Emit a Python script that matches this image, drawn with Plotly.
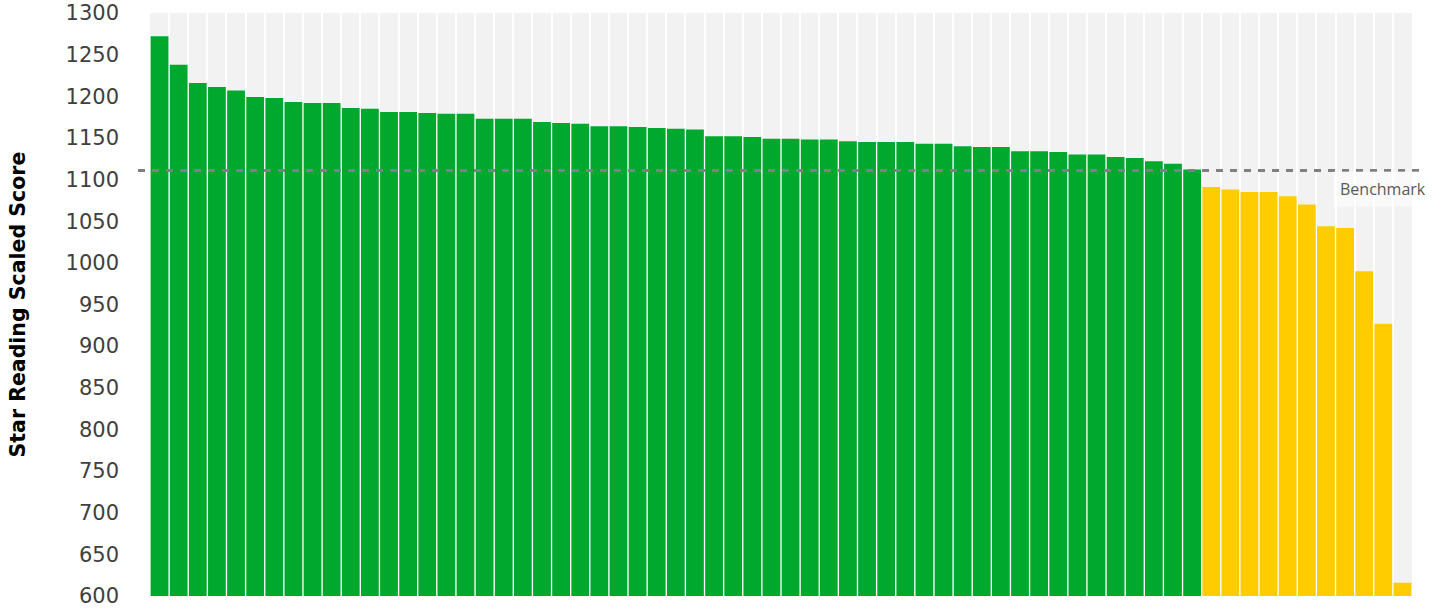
import plotly.graph_objects as go

# Student scaled scores, sorted high to low
scores = [
    1272, 1238, 1216, 1211, 1207, 1199, 1198, 1193, 1192, 1192,
    1186, 1185, 1181, 1181, 1180, 1179, 1179, 1173, 1173, 1173,
    1169, 1168, 1167, 1164, 1164, 1163, 1162, 1161, 1160, 1152,
    1152, 1151, 1149, 1149, 1148, 1148, 1146, 1145, 1145, 1145,
    1143, 1143, 1140, 1139, 1139, 1134, 1134, 1133, 1130, 1130,
    1127, 1126, 1122, 1119, 1112,
    1091, 1088, 1085, 1085, 1080, 1070, 1044, 1042, 990, 927, 616,
]
benchmark = 1111
students = [str(i + 1) for i in range(len(scores))]
y_ticks = list(range(600, 1301, 50))

GREEN = "#00A82D"
YELLOW = "#FFCC00"
colors = [GREEN if s >= benchmark else YELLOW for s in scores]

fig = go.Figure(
    go.Bar(
        x=students,
        y=scores,
        marker=dict(color=colors, line=dict(width=0)),
        hoverinfo="y",
    )
)

fig.update_layout(
    width=1442,
    height=610,
    margin=dict(l=150, r=30, t=13, b=14),
    paper_bgcolor="white",
    plot_bgcolor="#F2F2F2",
    bargap=0.07,
    showlegend=False,
    font=dict(family="DejaVu Sans, sans-serif", color="#404040"),
    xaxis=dict(
        type="category",
        showticklabels=False,
        ticks="",
        tickson="boundaries",
        showgrid=True,
        gridcolor="white",
        gridwidth=1.5,
        zeroline=False,
        showline=False,
        automargin=False,
    ),
    yaxis=dict(
        range=[600, 1300],
        tickvals=y_ticks,
        ticktext=[str(v) for v in y_ticks],
        tickfont=dict(size=21, color="#404040", family="DejaVu Sans, sans-serif"),
        ticklabeloverflow="allow",
        showgrid=False,
        zeroline=False,
        showline=False,
        ticks="",
        ticklabelstandoff=30,
        automargin=False,
    ),
    shapes=[
        dict(
            type="line",
            xref="paper",
            yref="y",
            x0=-0.0095,
            x1=1.0103,
            y0=benchmark,
            y1=benchmark,
            line=dict(color="#808080", width=3, dash="7px,7px"),
            layer="above",
        )
    ],
    annotations=[
        # vertical axis title
        dict(
            text="<b>Star Reading Scaled Score</b>",
            xref="paper",
            yref="paper",
            x=-0.1046,
            y=0.5,
            xanchor="center",
            yanchor="middle",
            textangle=-90,
            showarrow=False,
            font=dict(size=20.5, color="#000000", family="DejaVu Sans, sans-serif"),
        ),
        dict(
            text="Benchmark",
            xref="paper",
            yref="y",
            x=1.0165,
            y=benchmark,
            xanchor="right",
            yanchor="top",
            yshift=-1,
            showarrow=False,
            font=dict(size=16, color="#595959", family="Open Sans, sans-serif"),
            bgcolor="rgba(255,255,255,0.55)",
            borderpad=6,
        ),
    ],
)

fig.write_html("out.html")
